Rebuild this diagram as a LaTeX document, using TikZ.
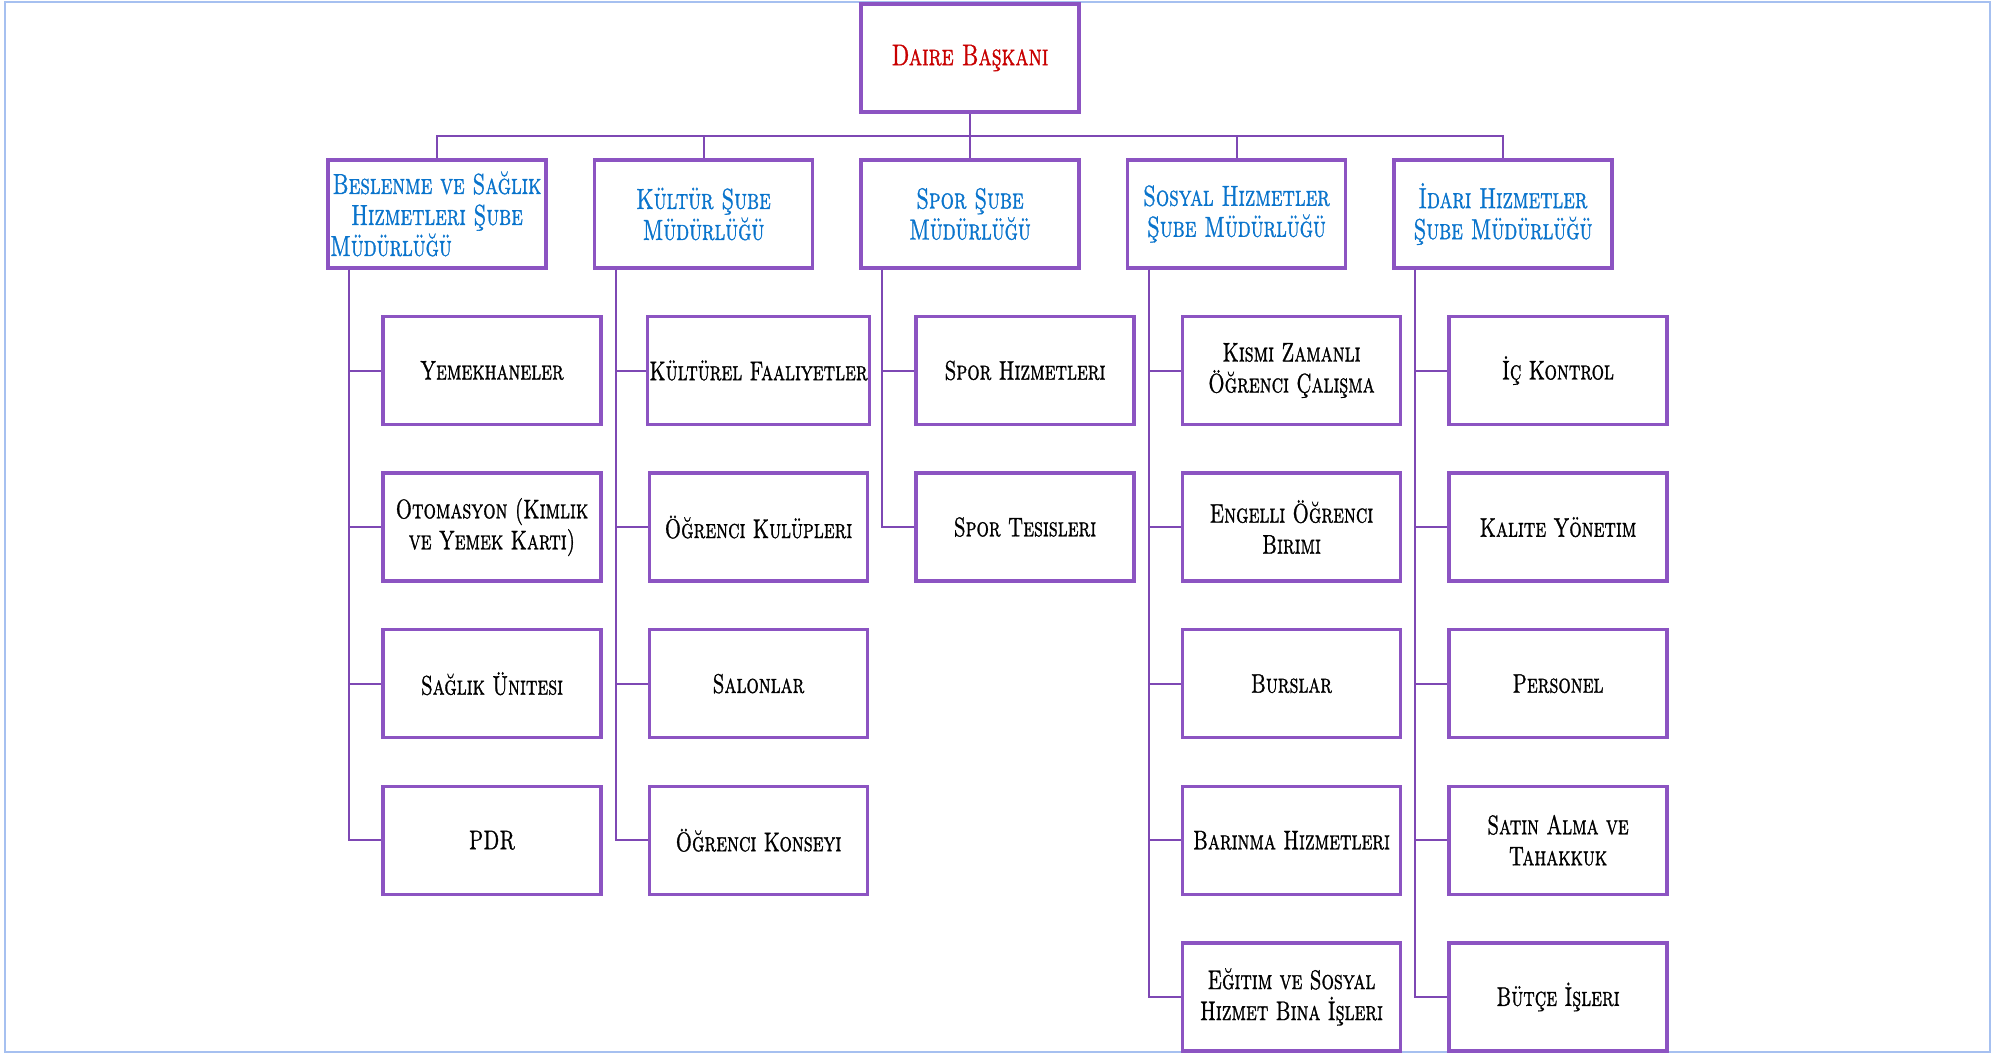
\documentclass[tikz,border=0pt]{standalone}
\usepackage{fontspec}
\usepackage{tikz}

\newfontfamily\orgfont{lmromancaps10-regular}[Extension=.otf,FakeStretch=0.72,FakeBold=1]
\definecolor{boxline}{RGB}{140,84,194}
\definecolor{linkline}{RGB}{126,72,180}
\definecolor{headred}{RGB}{200,0,0}
\definecolor{unitblue}{RGB}{10,116,204}
\definecolor{frameblue}{RGB}{166,192,240}

\begin{document}
\begin{tikzpicture}[x=0.5pt,y=-0.5pt]
        \tikzstyle{box} = [draw=boxline,line width=1.65pt,rectangle,minimum width=109pt,minimum height=54pt,inner sep=1pt,align=center,font=\orgfont\fontsize{13.5}{15.5}\selectfont]
        \tikzstyle{head} = [box,text=headred,font=\orgfont\fontsize{15}{17}\selectfont]
        \tikzstyle{unit} = [box,text=unitblue,font=\orgfont\fontsize{14.5}{15.5}\selectfont]
        \tikzstyle{office} = [box,text=black]
        \tikzstyle{link} = [draw=linkline,line width=1pt]

        \useasboundingbox (0,0) rectangle (2002,1054);
        \draw[frameblue,line width=1pt] (5,2) rectangle (1990,1052);

        \node[head] (top) at (970,58) {Daire Başkanı};
        \coordinate (bus) at (970,136);

        \foreach \l/\x/\t in {a/437/{Beslenme ve Sağlık\\Hizmetleri Şube\\Müdürlüğü\hspace*{46pt}},
          b/703.5/{Kültür Şube\\Müdürlüğü}, c/970/{Spor Şube\\Müdürlüğü},
          d/1236.5/{Sosyal Hizmetler\\Şube Müdürlüğü}, e/1503/{İdari Hizmetler\\Şube Müdürlüğü}} {
          \node[unit] (\l) at (\x,214) {\t};
        }

        \foreach \l/\x/\r/\t in {a1/492/1/Yemekhaneler, a2/492/2/{Otomasyon (Kimlik\\ve Yemek Kartı)},
          a3/492/3/Sağlık Ünitesi, a4/492/4/PDR,
          b1/758.5/1/Kültürel Faaliyetler, b2/758.5/2/Öğrenci Kulüpleri,
          b3/758.5/3/Salonlar, b4/758.5/4/Öğrenci Konseyi,
          c1/1025/1/Spor Hizmetleri, c2/1025/2/Spor Tesisleri,
          d1/1291.5/1/{Kısmi Zamanlı\\Öğrenci Çalışma}, d2/1291.5/2/{Engelli Öğrenci\\Birimi},
          d3/1291.5/3/Burslar, d4/1291.5/4/Barınma Hizmetleri,
          d5/1291.5/5/{Eğitim ve Sosyal\\Hizmet Bina İşleri},
          e1/1558/1/İç Kontrol, e2/1558/2/Kalite Yönetim, e3/1558/3/Personel,
          e4/1558/4/{Satın Alma ve\\Tahakkuk}, e5/1558/5/Bütçe İşleri} {
          \node[office] (\l) at (\x,213.9+156.6*\r) {\t};
        }

        \draw[link] (top.south) -- (bus);
        \foreach \a in {a,b,c,d,e} {
          \draw[link] (bus) -| (\a.north);
        }
        \foreach \a/\b in {a/a1, a/a2, a/a3, a/a4, b/b1, b/b2, b/b3, b/b4, c/c1, c/c2,
          d/d1, d/d2, d/d3, d/d4, d/d5, e/e1, e/e2, e/e3, e/e4, e/e5} {
          \draw[link] ([xshift=-44pt]\a.south) |- (\b.west);
        }
\end{tikzpicture}
\end{document}
